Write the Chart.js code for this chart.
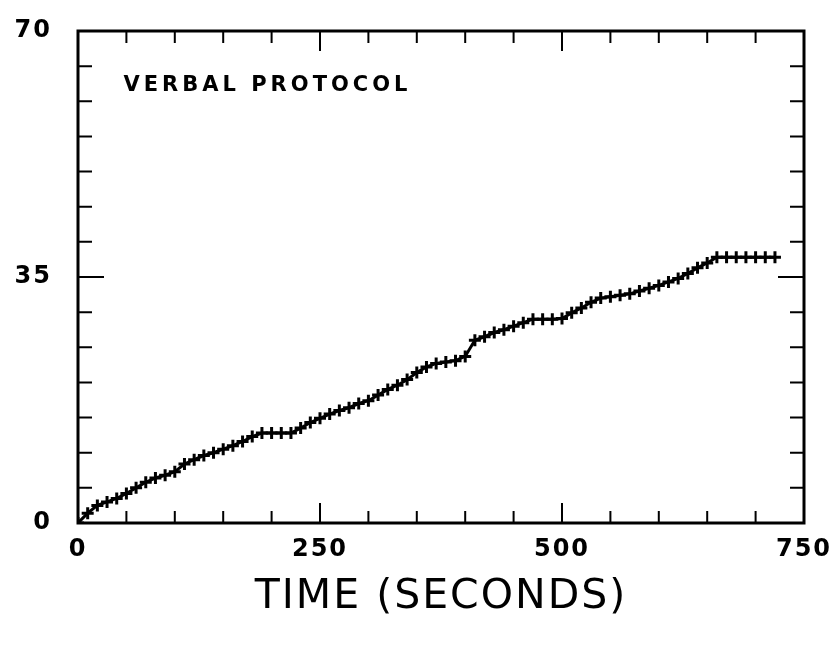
<!DOCTYPE html>
<html>
<head>
<meta charset="utf-8">
<script src="https://cdn.jsdelivr.net/npm/chart.js@4/dist/chart.umd.min.js"></script>
<style>
  html, body { margin: 0; padding: 0; background: #fff; }
  #wrap { width: 838px; height: 648px; }
</style>
</head>
<body>
<div id="wrap"><canvas id="c" width="838" height="648"></canvas></div>
<script>
// Time in seconds (x values)
const times = [0,10,20,30,40,50,60,70,80,90,100,110,120,130,140,150,160,170,180,190,
  200,210,220,230,240,250,260,270,280,290,300,310,320,330,340,350,360,370,380,390,
  400,410,420,430,440,450,460,470,480,490,500,510,520,530,540,550,560,570,580,590,
  600,610,620,630,640,650,660,670,680,690,700,710,720];
// Cumulative verbal protocol count (y values)
const protocol = [0,1.4,2.5,3.0,3.5,4.2,5.0,5.8,6.4,6.8,7.3,8.4,9.0,9.6,10.0,10.5,11.0,11.6,12.3,12.8,
  12.8,12.8,12.8,13.5,14.3,14.9,15.5,16.0,16.4,17.0,17.4,18.2,19.0,19.6,20.4,21.4,22.2,22.7,22.9,23.1,
  23.7,26.0,26.5,27.1,27.5,28.0,28.5,29.0,29.0,29.0,29.1,29.9,30.6,31.4,32.0,32.2,32.4,32.6,33.0,33.4,
  33.8,34.3,34.8,35.5,36.3,37.0,37.8,37.8,37.8,37.8,37.8,37.8,37.8];
const xLabelValues = [0, 250, 500, 750];
const yLabelValues = [0, 35, 70];
const panelLabel = 'VERBAL PROTOCOL';
const xTitle = 'TIME (SECONDS)';

const points = times.map((t, i) => ({ x: t, y: protocol[i] }));

const spacing = {
  id: 'spacing',
  beforeDraw(chart) { chart.ctx.letterSpacing = '2px'; }
};

const frameTicks = {
  id: 'frameTicks',
  afterDatasetsDraw(chart) {
    const { ctx, chartArea: a, scales: { x, y } } = chart;
    ctx.save();
    ctx.strokeStyle = '#000';
    ctx.lineCap = 'butt';
    ctx.lineWidth = 2;
    x.ticks.forEach(t => {
      const px = x.getPixelForValue(t.value);
      const len = xLabelValues.includes(t.value) ? 20 : 12;
      ctx.beginPath();
      ctx.moveTo(px, a.bottom); ctx.lineTo(px, a.bottom - len);
      ctx.moveTo(px, a.top); ctx.lineTo(px, a.top + len);
      ctx.stroke();
    });
    y.ticks.forEach(t => {
      const py = y.getPixelForValue(t.value);
      const len = yLabelValues.includes(t.value) ? 26 : 14;
      ctx.beginPath();
      ctx.moveTo(a.left, py); ctx.lineTo(a.left + len, py);
      ctx.moveTo(a.right, py); ctx.lineTo(a.right - len, py);
      ctx.stroke();
    });
    ctx.lineWidth = 3;
    ctx.strokeRect(a.left, a.top, a.right - a.left, a.bottom - a.top);
    // panel label
    ctx.fillStyle = '#000';
    ctx.font = 'bold 21px "DejaVu Sans"';
    ctx.letterSpacing = '4px';
    ctx.textAlign = 'left';
    ctx.textBaseline = 'middle';
    ctx.fillText(panelLabel, x.getPixelForValue(47), y.getPixelForValue(62.3));
    ctx.restore();
  }
};

new Chart(document.getElementById('c'), {
  type: 'line',
  data: {
    datasets: [{
      data: points,
      borderColor: '#000',
      backgroundColor: '#000',
      borderWidth: 3,
      pointStyle: 'cross',
      pointRadius: 6,
      pointBorderWidth: 3,
      pointBorderColor: '#000',
      fill: false,
      tension: 0
    }]
  },
  options: {
    responsive: false,
    devicePixelRatio: 1,
    animation: false,
    events: [],
    layout: { padding: { left: 0, right: 34, top: 31, bottom: 0 } },
    plugins: { legend: { display: false }, tooltip: { enabled: false }, title: { display: false } },
    scales: {
      x: {
        type: 'linear',
        min: 0, max: 750,
        grid: { display: false, drawTicks: false },
        border: { display: false },
        afterFit(s) { s.height = 125; s.paddingLeft = 0; s.paddingRight = 0; },
        ticks: {
          stepSize: 50,
          autoSkip: false,
          maxRotation: 0,
          padding: 12,
          color: '#000',
          font: { family: '"DejaVu Sans"', size: 24, weight: 'bold' },
          callback: v => xLabelValues.includes(v) ? String(v) : ''
        },
        title: {
          display: true,
          text: xTitle,
          color: '#000',
          font: { family: '"DejaVu Sans"', size: 41, weight: 'normal' },
          padding: { top: 0, bottom: 26 }
        }
      },
      y: {
        type: 'linear',
        min: 0, max: 70,
        grid: { display: false, drawTicks: false },
        border: { display: false },
        afterFit(s) { s.width = 78; s.paddingTop = 0; s.paddingBottom = 0; },
        ticks: {
          stepSize: 5,
          autoSkip: false,
          padding: 26,
          color: '#000',
          font: { family: '"DejaVu Sans"', size: 24, weight: 'bold' },
          callback: v => yLabelValues.includes(v) ? String(v) : ''
        }
      }
    }
  },
  plugins: [spacing, frameTicks]
});
</script>
</body>
</html>
